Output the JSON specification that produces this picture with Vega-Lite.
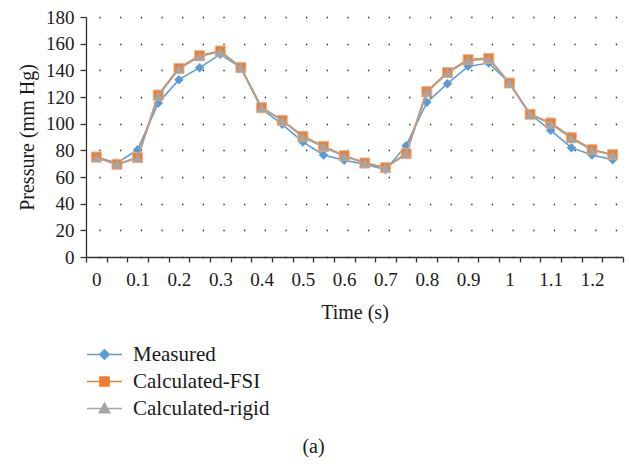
{
  "$schema": "https://vega.github.io/schema/vega-lite/v6.json",
  "autosize": "none",
  "padding": {"left": 86, "top": 17, "right": 8, "bottom": 207},
  "width": 537,
  "height": 240,
  "background": "white",
  "config": {
    "view": {"stroke": null},
    "font": "Liberation Serif",
    "axis": {"labelFont": "Liberation Serif", "titleFont": "Liberation Serif", "labelFontSize": 19, "titleFontSize": 20, "titleFontWeight": "normal", "labelColor": "#1a1a1a", "titleColor": "#1a1a1a", "domainColor": "#333333", "tickColor": "#333333", "domainWidth": 1.3, "tickWidth": 1.3},
    "legend": {"labelFont": "Liberation Serif", "labelFontSize": 21, "labelColor": "#1a1a1a"},
    "title": {"font": "Liberation Serif", "fontSize": 20, "fontWeight": "normal", "color": "#1a1a1a"}
  },
  "title": {"text": "(a)", "orient": "bottom", "anchor": "middle", "offset": 18, "dx": -41},
  "data": {
    "values": [
      {"t": 0, "Measured": 75, "Calculated-FSI": 75, "Calculated-rigid": 74.5},
      {"t": 0.05, "Measured": 70.5, "Calculated-FSI": 69.5, "Calculated-rigid": 69.5},
      {"t": 0.1, "Measured": 80.5, "Calculated-FSI": 74.5, "Calculated-rigid": 74.5},
      {"t": 0.15, "Measured": 115.5, "Calculated-FSI": 121.5, "Calculated-rigid": 121},
      {"t": 0.2, "Measured": 133, "Calculated-FSI": 141.5, "Calculated-rigid": 141},
      {"t": 0.25, "Measured": 142, "Calculated-FSI": 151, "Calculated-rigid": 150.5},
      {"t": 0.3, "Measured": 152, "Calculated-FSI": 154.5, "Calculated-rigid": 154},
      {"t": 0.35, "Measured": 142, "Calculated-FSI": 142, "Calculated-rigid": 142},
      {"t": 0.4, "Measured": 111, "Calculated-FSI": 112, "Calculated-rigid": 112},
      {"t": 0.45, "Measured": 99.5, "Calculated-FSI": 102.5, "Calculated-rigid": 102.5},
      {"t": 0.5, "Measured": 86.3, "Calculated-FSI": 90.5, "Calculated-rigid": 90},
      {"t": 0.55, "Measured": 76.5, "Calculated-FSI": 83, "Calculated-rigid": 82.5},
      {"t": 0.6, "Measured": 72.5, "Calculated-FSI": 76, "Calculated-rigid": 75.5},
      {"t": 0.65, "Measured": 69.5, "Calculated-FSI": 70.5, "Calculated-rigid": 70.5},
      {"t": 0.7, "Measured": 65.5, "Calculated-FSI": 67, "Calculated-rigid": 67},
      {"t": 0.75, "Measured": 83.5, "Calculated-FSI": 77.5, "Calculated-rigid": 77.5},
      {"t": 0.8, "Measured": 116, "Calculated-FSI": 124, "Calculated-rigid": 123.5},
      {"t": 0.85, "Measured": 130, "Calculated-FSI": 138.3, "Calculated-rigid": 138},
      {"t": 0.9, "Measured": 143, "Calculated-FSI": 148, "Calculated-rigid": 147.5},
      {"t": 0.95, "Measured": 145.5, "Calculated-FSI": 149, "Calculated-rigid": 148.5},
      {"t": 1.0, "Measured": 130.5, "Calculated-FSI": 130.5, "Calculated-rigid": 130.5},
      {"t": 1.05, "Measured": 107, "Calculated-FSI": 107, "Calculated-rigid": 107},
      {"t": 1.1, "Measured": 95, "Calculated-FSI": 100.5, "Calculated-rigid": 100},
      {"t": 1.15, "Measured": 82, "Calculated-FSI": 89.5, "Calculated-rigid": 89},
      {"t": 1.2, "Measured": 76.5, "Calculated-FSI": 80.5, "Calculated-rigid": 80},
      {"t": 1.25, "Measured": 73, "Calculated-FSI": 76.8, "Calculated-rigid": 76.5}
    ]
  },
  "transform": [{"fold": ["Measured", "Calculated-FSI", "Calculated-rigid"], "as": ["series", "p"]}],
  "encoding": {
    "x": {
      "field": "t", "type": "quantitative",
      "scale": {"domain": [-0.025, 1.275], "nice": false, "zero": false},
      "axis": {
        "title": "Time (s)",
        "values": [-0.025, 0.025, 0.075, 0.125, 0.175, 0.225, 0.275, 0.325, 0.375, 0.425, 0.475, 0.525, 0.575, 0.625, 0.675, 0.725, 0.775, 0.825, 0.875, 0.925, 0.975, 1.025, 1.075, 1.125, 1.175, 1.225, 1.275],
        "labelExpr": "(round((datum.value + 0.025) * 20) % 2 == 0 && datum.value < 1.25) ? format(datum.value + 0.025, '.2~f') : ''",
        "labelOffset": 10.33,
        "labelFlush": false,
        "labelOverlap": false,
        "labelBound": false,
        "tickSize": 5,
        "labelPadding": 8,
        "titlePadding": 13,
        "grid": false
      }
    },
    "y": {
      "field": "p", "type": "quantitative",
      "scale": {"domain": [0, 180], "nice": false},
      "axis": {
        "title": "Pressure (mm Hg)",
        "values": [0, 20, 40, 60, 80, 100, 120, 140, 160, 180],
        "tickSize": 6,
        "labelPadding": 6,
        "titlePadding": 8,
        "grid": true,
        "gridColor": "#222222",
        "gridWidth": 1.3,
        "gridDash": [1.3, 19.35],
        "gridDashOffset": 7.65
      }
    },
    "color": {
      "field": "series", "type": "nominal",
      "scale": {"domain": ["Measured", "Calculated-FSI", "Calculated-rigid"], "range": ["#5B9BD5", "#ED7D31", "#A5A5A5"]},
      "legend": {
        "title": null,
        "orient": "none",
        "legendX": 8,
        "legendY": 327,
        "padding": 0,
        "symbolSize": 361,
        "symbolStrokeWidth": 1.5,
        "labelOffset": 18,
        "rowPadding": 5,
        "encode": {
          "symbols": {
            "update": {
              "shape": {"signal": "datum.value === 'Measured' ? 'M-1.84,0H1.84M0,-0.5L0.5,0L0,0.5L-0.5,0Z' : (datum.value === 'Calculated-FSI' ? 'M-1.84,0H1.84M-0.48,-0.48H0.48V0.48H-0.48Z' : 'M-1.84,0H1.84M0,-0.55L0.55,0.45H-0.55Z')"},
              "fill": {"scale": "color", "field": "value"},
              "stroke": {"scale": "color", "field": "value"},
              "strokeWidth": {"value": 1.5},
              "opacity": {"value": 1},
              "fillOpacity": {"value": 1},
              "strokeOpacity": {"value": 1}
            }
          }
        }
      }
    }
  },
  "layer": [
    {"transform": [{"filter": "datum.series === 'Measured'"}], "mark": {"type": "line", "strokeWidth": 1.5}},
    {"transform": [{"filter": "datum.series === 'Measured'"}], "mark": {"type": "point", "shape": "diamond", "size": 90, "filled": true, "opacity": 1}},
    {"transform": [{"filter": "datum.series === 'Calculated-FSI'"}], "mark": {"type": "line", "strokeWidth": 2}},
    {"transform": [{"filter": "datum.series === 'Calculated-FSI'"}], "mark": {"type": "point", "shape": "square", "size": 100, "filled": true, "opacity": 1, "stroke": "#F4B183", "strokeWidth": 1}},
    {"transform": [{"filter": "datum.series === 'Calculated-rigid'"}], "mark": {"type": "line", "strokeWidth": 1.6}},
    {"transform": [{"filter": "datum.series === 'Calculated-rigid'"}], "mark": {"type": "point", "shape": "triangle-up", "size": 110, "filled": true, "opacity": 1}}
  ]
}
